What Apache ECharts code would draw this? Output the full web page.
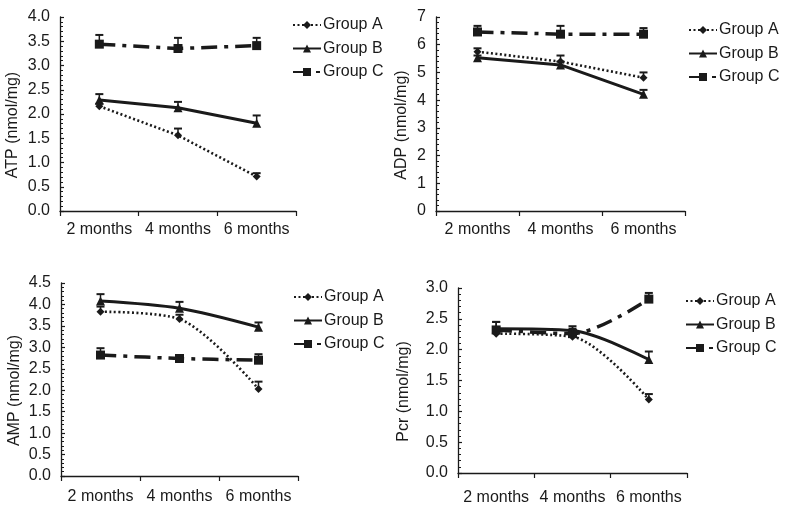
<!DOCTYPE html>
<html><head><meta charset="utf-8">
<script src="https://cdn.jsdelivr.net/npm/echarts@6/dist/echarts.min.js"></script>
<style>html,body{margin:0;padding:0;background:#fff}#c{width:800px;height:522px}</style>
</head><body><div id="c"></div>
<script>
// ---- data ----
const categories = ['2 months', '4 months', '6 months'];
const groupNames = ['Group A', 'Group B', 'Group C'];

const atpA = [2.16, 1.56, 0.71];
const atpB = [2.29, 2.13, 1.81];
const atpC = [3.44, 3.35, 3.41];
const atpSdA = [0.05, 0.14, 0.07];
const atpSdB = [0.12, 0.12, 0.16];
const atpSdC = [0.19, 0.22, 0.16];

const adpA = [5.75, 5.39, 4.81];
const adpB = [5.53, 5.27, 4.21];
const adpC = [6.46, 6.38, 6.38];
const adpSdA = [0.12, 0.22, 0.19];
const adpSdB = [0.08, 0.12, 0.16];
const adpSdC = [0.22, 0.30, 0.22];

const ampA = [3.83, 3.66, 2.03];
const ampB = [4.08, 3.91, 3.47];
const ampC = [2.82, 2.74, 2.70];
const ampSdA = [0.12, 0.10, 0.17];
const ampSdB = [0.16, 0.15, 0.11];
const ampSdC = [0.16, 0.08, 0.14];

const pcrA = [2.26, 2.21, 1.19];
const pcrB = [2.34, 2.31, 1.84];
const pcrC = [2.32, 2.26, 2.82];
const pcrSdA = [0.05, 0.06, 0.09];
const pcrSdB = [0.11, 0.07, 0.13];
const pcrSdC = [0.13, 0.08, 0.10];

// ---- layout / style ----
const FONT = '"Liberation Sans", Arial, sans-serif';
const FS = 16;
const INK = '#1a1a1a';

const panels = [
  { name: 'ATP (nmol/mg)', max: 4, interval: 0.5, digits: 1, vals: [atpA, atpB, atpC], sds: [atpSdA, atpSdB, atpSdC],
    grid: { left: 60, top: 17, width: 236, height: 194 }, legend: { left: 287, top: 12 }, nameGap: 39, xMargin: 11, smooth: false },
  { name: 'ADP (nmol/mg)', max: 7, interval: 1, digits: 0, vals: [adpA, adpB, adpC], sds: [adpSdA, adpSdB, adpSdC],
    grid: { left: 436, top: 17, width: 249, height: 194 }, legend: { left: 683, top: 17 }, nameGap: 26, xMargin: 11, smooth: false },
  { name: 'AMP (nmol/mg)', max: 4.5, interval: 0.5, digits: 1, vals: [ampA, ampB, ampC], sds: [ampSdA, ampSdB, ampSdC],
    grid: { left: 61, top: 283, width: 237, height: 193 }, legend: { left: 288, top: 284 }, nameGap: 38, xMargin: 13, smooth: 0.3 },
  { name: 'Pcr (nmol/mg)', max: 3, interval: 0.5, digits: 1, vals: [pcrA, pcrB, pcrC], sds: [pcrSdA, pcrSdB, pcrSdC],
    grid: { left: 458, top: 288, width: 229, height: 185 }, legend: { left: 680, top: 288 }, nameGap: 46, xMargin: 17, smooth: 0.3 }
];

const seriesStyle = [
  { symbol: 'diamond', symbolSize: 8, lineStyle: { type: [2, 2.5], width: 2.6, color: INK } },
  { symbol: 'triangle', symbolSize: 9, lineStyle: { type: 'solid', width: 3, color: INK } },
  { symbol: 'rect', symbolSize: 9, lineStyle: { type: [16, 7, 4, 7], width: 3.5, color: INK } }
];

function errRender(params, api) {
  const x = api.value(0), y = api.value(1), top = api.value(2);
  const p0 = api.coord([x, y]);
  const p1 = api.coord([x, top]);
  const w = 4;
  return { type: 'group', children: [
    { type: 'line', shape: { x1: p0[0], y1: p0[1], x2: p1[0], y2: p1[1] }, style: { stroke: INK, lineWidth: 1.5 } },
    { type: 'line', shape: { x1: p1[0] - w, y1: p1[1], x2: p1[0] + w, y2: p1[1] }, style: { stroke: INK, lineWidth: 2 } }
  ]};
}

const txt = extra => Object.assign({ color: INK, fontSize: FS, fontFamily: FONT }, extra || {});

const option = { animation: false, backgroundColor: '#fff', grid: [], xAxis: [], yAxis: [], legend: [], series: [] };

panels.forEach((p, gi) => {
  option.grid.push(Object.assign({ containLabel: false }, p.grid));
  option.xAxis.push({
    type: 'category', gridIndex: gi, data: categories, boundaryGap: true,
    axisLine: { show: true, lineStyle: { color: INK, width: 1.3 } },
    axisTick: { show: true, inside: false, length: 5, alignWithLabel: false, lineStyle: { color: INK, width: 1.2 } },
    axisLabel: txt({ margin: p.xMargin, interval: 0 }),
    splitLine: { show: false }
  });
  option.yAxis.push({
    type: 'value', gridIndex: gi, min: 0, max: p.max, interval: p.interval,
    name: p.name, nameLocation: 'middle', nameGap: p.nameGap,
    nameTextStyle: txt({ padding: [0, 22, 0, 0] }),
    axisLine: { show: true, lineStyle: { color: INK, width: 1.3 } },
    axisTick: { show: true, inside: true, length: 4, lineStyle: { color: INK, width: 1.2 } },
    minorTick: { show: true, splitNumber: 5, length: 3, lineStyle: { color: INK, width: 1 } },
    axisLabel: txt({ margin: 10, formatter: v => v.toFixed(p.digits) }),
    splitLine: { show: false }
  });
  option.legend.push({
    data: groupNames, orient: 'vertical', left: p.legend.left, top: p.legend.top,
    itemWidth: 28, itemHeight: 10, itemGap: 7.5, selectedMode: false,
    textStyle: txt({ padding: [0, 0, 0, -3] })
  });
  p.vals.forEach((vals, si) => {
    const st = seriesStyle[si];
    option.series.push({
      name: groupNames[si], type: 'line', xAxisIndex: gi, yAxisIndex: gi, data: vals,
      smooth: p.smooth, symbol: st.symbol, symbolSize: st.symbolSize,
      itemStyle: { color: INK, borderWidth: 0 }, lineStyle: st.lineStyle, z: 3
    });
    option.series.push({
      name: 'err', type: 'custom', xAxisIndex: gi, yAxisIndex: gi, renderItem: errRender, z: 4,
      encode: { x: 0, y: [1, 2] },
      data: vals.map((v, i) => [i, v, v + p.sds[si][i]])
    });
  });
});

const chart = echarts.init(document.getElementById('c'), null, { renderer: 'canvas' });
chart.setOption(option);
</script>
</body></html>
